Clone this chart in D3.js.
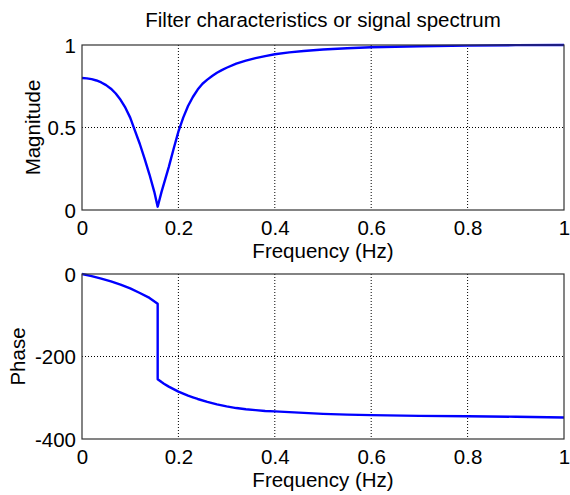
<!DOCTYPE html>
<html>
<head>
<meta charset="utf-8">
<script src="https://cdn.jsdelivr.net/npm/d3@7"></script>
<style>
  body { margin: 0; background: #fff; }
  svg { display: block; font-family: "Liberation Sans", Arial, sans-serif; }
</style>
</head>
<body>
<svg width="570" height="495"></svg>
<script>
const freqTicks = [0, 0.2, 0.4, 0.6, 0.8, 1];
const magTicks = [0, 0.5, 1];
const phaseTicks = [-400, -200, 0];

const magFreq = [0, 0.01, 0.02, 0.03, 0.04, 0.05, 0.06, 0.07, 0.08, 0.09, 0.10, 0.11, 0.12, 0.13,
  0.14, 0.15, 0.157, 0.165, 0.17, 0.18, 0.19, 0.20, 0.21, 0.22, 0.23, 0.24, 0.25, 0.26, 0.27,
  0.28, 0.29, 0.30, 0.32, 0.34, 0.36, 0.38, 0.40, 0.43, 0.46, 0.50, 0.55, 0.60, 0.65, 0.70,
  0.80, 0.90, 1.0];
const magnitude = [0.800, 0.798, 0.793, 0.785, 0.773, 0.757, 0.735, 0.706, 0.668, 0.62, 0.56, 0.48, 0.40, 0.31,
  0.215, 0.11, 0.02, 0.11, 0.16, 0.26, 0.37, 0.475, 0.56, 0.63, 0.685, 0.73, 0.765, 0.79, 0.812,
  0.832, 0.848, 0.862, 0.887, 0.905, 0.92, 0.933, 0.944, 0.955, 0.964, 0.973, 0.980, 0.986, 0.989, 0.992,
  0.996, 0.999, 1.0];

const phaseFreq = [0, 0.02, 0.04, 0.06, 0.08, 0.10, 0.12, 0.14, 0.157, 0.157, 0.165, 0.17, 0.18, 0.19,
  0.20, 0.21, 0.22, 0.23, 0.24, 0.26, 0.28, 0.30, 0.32, 0.34, 0.36, 0.38, 0.40, 0.45, 0.50,
  0.55, 0.60, 0.70, 0.80, 0.90, 1.0];
const phase = [0, -5, -11, -18, -26, -35, -46, -58, -72, -255, -262, -266, -273, -279,
  -285, -290, -295, -299, -303, -310, -316, -321, -325, -328, -330, -332, -333, -336, -339,
  -341, -342, -344, -345, -346, -348];

const svg = d3.select("svg");
const left = 82, right = 564;
const fontSize = 20.5;

const drawPanel = (top, bottom, xs, ys, yDomain, yTicks, gridY, yLabel, yLabelX, labelY) => {
  const x = d3.scaleLinear().domain([0, 1]).range([left, right]);
  const y = d3.scaleLinear().domain(yDomain).range([bottom, top]);
  const g = svg.append("g");

  // dotted grid
  g.selectAll(".gx")
    .data(freqTicks.slice(1, -1))
    .enter()
    .append("line")
    .attr("x1", (d) => x(d)).attr("x2", (d) => x(d))
    .attr("y1", top).attr("y2", bottom)
    .attr("stroke", "#000").attr("stroke-dasharray", "1,2");
  g.selectAll(".gy")
    .data(gridY)
    .enter()
    .append("line")
    .attr("x1", left).attr("x2", right)
    .attr("y1", (d) => y(d)).attr("y2", (d) => y(d))
    .attr("stroke", "#000").attr("stroke-dasharray", "1,2");

  // the curve
  const line = d3.line().x((d, i) => x(xs[i])).y((d) => y(d));
  g.append("path")
    .datum(ys)
    .attr("d", line)
    .attr("fill", "none")
    .attr("stroke", "#0000ff")
    .attr("stroke-width", 2.4)
    .attr("stroke-linejoin", "round");

  // box
  g.append("rect")
    .attr("x", left).attr("y", top)
    .attr("width", right - left).attr("height", bottom - top)
    .attr("fill", "none").attr("stroke", "#333").attr("stroke-width", 1.2);

  // axes with labels only
  const xAxis = g.append("g")
    .attr("transform", "translate(0," + bottom + ")")
    .call(d3.axisBottom(x).tickValues(freqTicks).tickFormat((d) => String(d)).tickSize(0).tickPadding(10));
  const yAxis = g.append("g")
    .attr("transform", "translate(" + left + ",0)")
    .call(d3.axisLeft(y).tickValues(yTicks).tickFormat((d) => String(d)).tickSize(0).tickPadding(6));
  [xAxis, yAxis].forEach((a) => {
    a.select(".domain").remove();
    a.selectAll("text").attr("font-size", fontSize).attr("fill", "#000").attr("font-family", null);
  });
  yAxis.selectAll("text").attr("dy", "0.36em");

  g.append("text")
    .attr("x", (left + right) / 2).attr("y", labelY)
    .attr("text-anchor", "middle").attr("font-size", fontSize)
    .text("Frequency (Hz)");
  g.append("text")
    .attr("transform", "translate(" + yLabelX + "," + (top + bottom) / 2 + ") rotate(-90)")
    .attr("text-anchor", "middle").attr("font-size", fontSize)
    .text(yLabel);
};

svg.append("text")
  .attr("x", (left + right) / 2).attr("y", 27)
  .attr("text-anchor", "middle").attr("font-size", fontSize)
  .text("Filter characteristics or signal spectrum");

drawPanel(45, 210, magFreq, magnitude, [0, 1], magTicks, [0.5], "Magnitude", 40, 258);
drawPanel(274, 439, phaseFreq, phase, [-400, 0], phaseTicks, [-200], "Phase", 25, 487);
</script>
</body>
</html>
